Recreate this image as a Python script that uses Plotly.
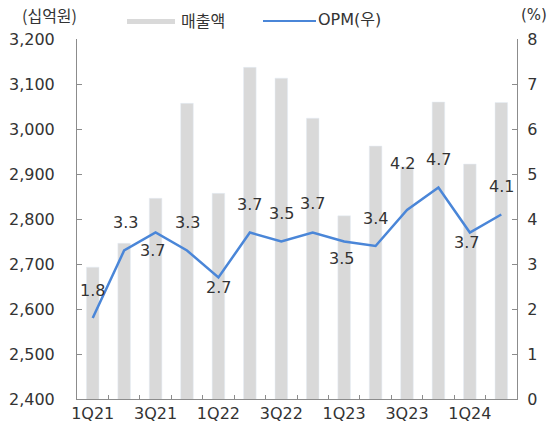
import plotly.graph_objects as go

quarters = ["1Q21", "2Q21", "3Q21", "4Q21", "1Q22", "2Q22", "3Q22", "4Q22",
            "1Q23", "2Q23", "3Q23", "4Q23", "1Q24", "2Q24"]
sales = [2693, 2746, 2846, 3057, 2857, 3137, 3113, 3024,
         2807, 2962, 2916, 3060, 2922, 3059]
opm = [1.8, 3.3, 3.7, 3.3, 2.7, 3.7, 3.5, 3.7, 3.5, 3.4, 4.2, 4.7, 3.7, 4.1]
shown_ticks = ["1Q21", "3Q21", "1Q22", "3Q22", "1Q23", "3Q23", "1Q24"]

# label offsets in pixels (style only): (x shift, y shift)
label_offsets = [(0, 28), (1, 28), (-3, -18), (0, 28), (0, -10), (0, 28), (0, 28),
                 (0, 29), (-3, -17), (0, 28), (-5, 47), (0, 28), (-3, -10), (0, 28)]

FONT = "'DejaVu Sans', 'Noto Sans CJK KR', sans-serif"
KFONT = "'Noto Sans CJK KR', 'DejaVu Sans', sans-serif"
TXT = "#333333"
AX = "#8c8c8c"
BAR = "#d9d9d9"
LINE = "#4a86d8"

W, H = 549, 428
ML, MT = 77, 39
MR, MB = W - 517, H - 399
pw, ph = W - ML - MR, H - MT - MB
def px(x):
    return (x - ML) / pw
def py(y):
    return (H - MB - y) / ph

fig = go.Figure()
fig.add_trace(go.Bar(x=quarters, y=sales, marker_color=BAR, width=0.40,
                     name="매출액", yaxis="y"))
fig.add_trace(go.Scatter(x=quarters, y=opm, mode="lines",
                         line=dict(color=LINE, width=2.5),
                         name="OPM(우)", yaxis="y2"))

annotations = []
for q, v, (dx, dy) in zip(quarters, opm, label_offsets):
    annotations.append(dict(x=q, y=v, xref="x", yref="y2", text=f"{v:.1f}",
                            showarrow=False, xshift=dx, yshift=dy,
                            font=dict(size=16, color=TXT, family=FONT)))

def paper_text(x, y, text, size, family, xanchor="center"):
    return dict(x=px(x), y=py(y), xref="paper", yref="paper", showarrow=False,
                xanchor=xanchor, yanchor="middle", text=text,
                font=dict(size=size, color=TXT, family=family))

annotations += [
    paper_text(49, 15, "(십억원)", 16, KFONT),
    paper_text(534, 15, "(%)", 15, FONT),
    paper_text(179, 20, "매출액", 16, KFONT, "left"),
    paper_text(316, 20, "OPM(우)", 16, FONT, "left"),
]

fig.update_layout(
    width=W, height=H,
    margin=dict(l=ML, r=MR, t=MT, b=MB),
    paper_bgcolor="white", plot_bgcolor="white",
    showlegend=False,
    font=dict(family=FONT, size=16, color=TXT),
    annotations=annotations,
    xaxis=dict(type="category", categoryorder="array", categoryarray=quarters,
               tickvals=quarters,
               ticktext=[q if q in shown_ticks else "" for q in quarters],
               tickson="boundaries", ticks="inside", ticklen=4, tickcolor=AX,
               tickangle=0, automargin=False,
               showline=True, linecolor=AX, linewidth=1, showgrid=False,
               tickfont=dict(size=16, color=TXT), range=[-0.5, 13.5]),
    yaxis=dict(range=[2400, 3200], dtick=100, tickformat=",",
               ticks="inside", ticklen=5, tickcolor=AX, automargin=False,
               ticklabelstandoff=18,
               showline=True, linecolor=AX, linewidth=1, showgrid=False,
               zeroline=False, tickfont=dict(size=16, color=TXT)),
    yaxis2=dict(range=[0, 8], dtick=1, overlaying="y", side="right",
                ticks="inside", ticklen=5, tickcolor=AX, automargin=False,
                ticklabelstandoff=6,
                showline=True, linecolor=AX, linewidth=1, showgrid=False,
                zeroline=False, tickfont=dict(size=16, color=TXT)),
)

fig.add_shape(type="rect", xref="paper", yref="paper",
              x0=px(127), x1=px(175), y0=py(24), y1=py(19),
              fillcolor=BAR, line_width=0)
fig.add_shape(type="line", xref="paper", yref="paper",
              x0=px(263), x1=px(316), y0=py(21), y1=py(21),
              line=dict(color=LINE, width=2))

fig.write_html("out.html",
               config={"displayModeBar": False},
               post_script="document.body.style.margin='0';"
                           "document.body.style.overflow='hidden';")
